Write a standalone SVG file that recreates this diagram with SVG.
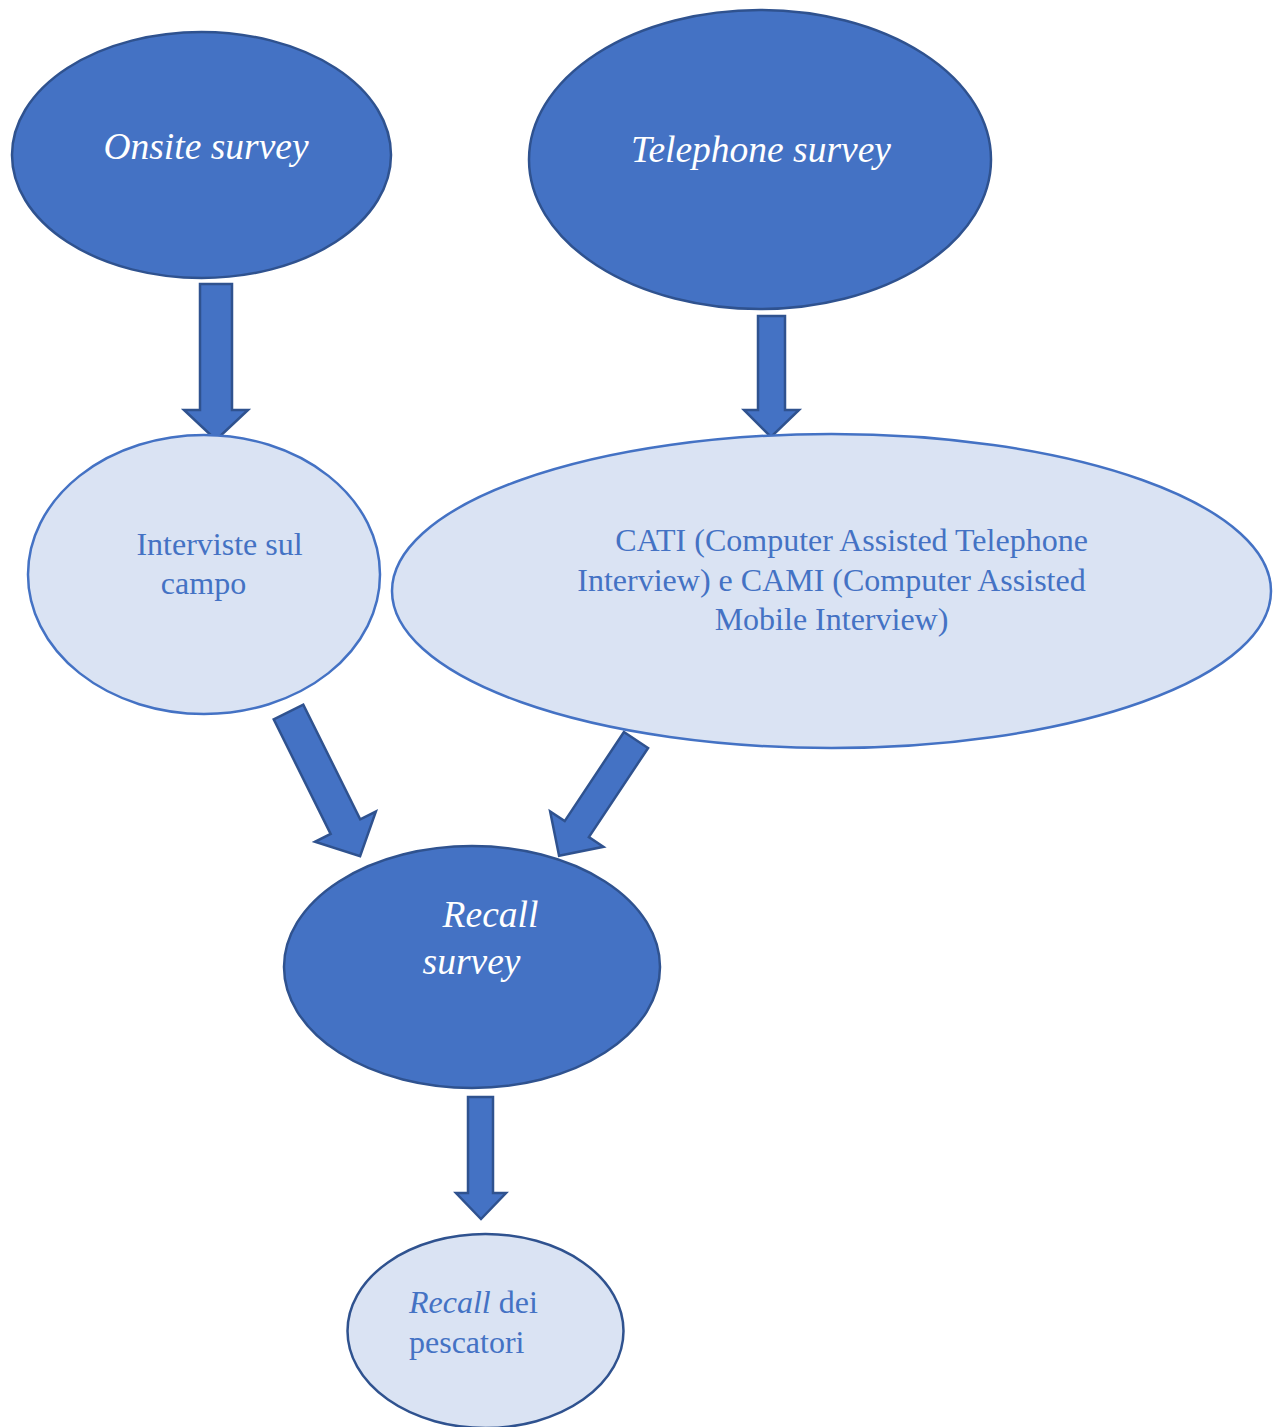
<svg xmlns="http://www.w3.org/2000/svg" width="1282" height="1427" viewBox="0 0 1282 1427">
<style>
.dark{fill:#4472C4;stroke:#2F528F;stroke-width:2.5}
.light{fill:#DAE3F3;stroke:#4472C4;stroke-width:2.5}
.light2{fill:#DAE3F3;stroke:#2F528F;stroke-width:2.5}
.arrow{fill:#4472C4;stroke:#2F528F;stroke-width:2.5;stroke-linejoin:miter}
.tw{font-family:"Liberation Serif","Times New Roman",serif;font-style:italic;fill:#FFFFFF;font-size:37.5px}
.tb{font-family:"Liberation Serif","Times New Roman",serif;fill:#4472C4;font-size:32px}
</style>
<rect width="1282" height="1427" fill="#FFFFFF"/>
<g id="connectors">
<polygon class="arrow" points="200,284 232,284 232,410 248,410 216,440 184,410 200,410"/>
<polygon class="arrow" points="758,316 785,316 785,410 799,410 771,437 744,410 758,410"/>
<polygon class="arrow" points="468,1097 493,1097 493,1193 506,1193 481,1219 456,1193 468,1193"/>
<polygon class="arrow" transform="translate(288.5,712) rotate(-26.4)" points="-16.5,0 16.5,0 16.5,128 34,128 0,161 -34,128 -16.5,128"/>
<polygon class="arrow" transform="translate(636,740) rotate(33.6)" points="-14.5,0 14.5,0 14.5,107 32,107 0,139 -32,107 -14.5,107"/>
</g>
<g id="onsite">
<ellipse class="dark" cx="201.5" cy="155" rx="189.5" ry="123"/>
<text class="tw" x="206" y="159" text-anchor="middle">Onsite survey</text>
</g>
<g id="telephone">
<ellipse class="dark" cx="760" cy="159.5" rx="231" ry="149.5"/>
<text class="tw" x="761" y="162" text-anchor="middle">Telephone survey</text>
</g>
<g id="interviste">
<ellipse class="light" cx="204" cy="574.5" rx="176" ry="139.5"/>
<text class="tb" x="219.5" y="555" text-anchor="middle">Interviste sul</text>
<text class="tb" x="203.5" y="594" text-anchor="middle">campo</text>
</g>
<g id="cati">
<ellipse class="light" cx="831.5" cy="591" rx="439.5" ry="157"/>
<text class="tb" x="851.5" y="551" text-anchor="middle">CATI (Computer Assisted Telephone</text>
<text class="tb" x="831.5" y="591" text-anchor="middle">Interview) e CAMI (Computer Assisted</text>
<text class="tb" x="831.5" y="630" text-anchor="middle">Mobile Interview)</text>
</g>
<g id="recall-survey">
<ellipse class="dark" cx="472" cy="967" rx="188" ry="121"/>
<text class="tw" x="490.5" y="927" text-anchor="middle">Recall</text>
<text class="tw" x="471.5" y="974" text-anchor="middle">survey</text>
</g>
<g id="recall-dei">
<ellipse class="light2" cx="485.5" cy="1331" rx="138" ry="97"/>
<text class="tb" x="409" y="1313"><tspan font-style="italic">Recall</tspan> dei</text>
<text class="tb" x="409" y="1353">pescatori</text>
</g>
</svg>
